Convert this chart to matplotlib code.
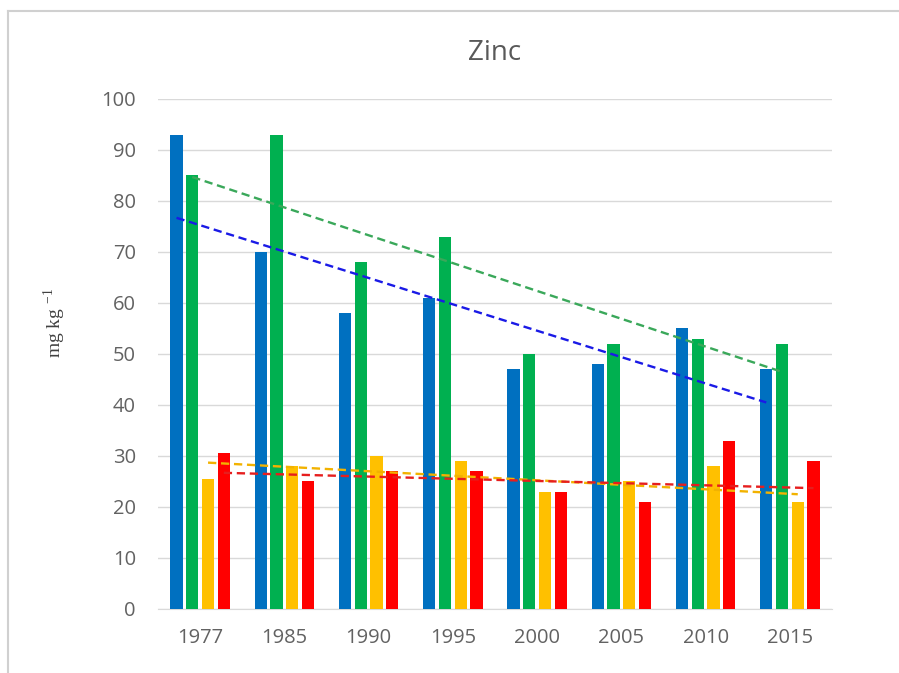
import numpy as np
import matplotlib
matplotlib.use('Agg')
import matplotlib.pyplot as plt
from matplotlib.lines import Line2D

# Zinc concentrations (mg/kg) by sampling year, four series
years = ['1977', '1985', '1990', '1995', '2000', '2005', '2010', '2015']
blue_vals = [93, 70, 58, 61, 47, 48, 55, 47]
green_vals = [85, 93, 68, 73, 50, 52, 53, 52]
yellow_vals = [25.5, 28, 30, 29, 23, 25, 28, 21]
red_vals = [30.5, 25, 27, 27, 23, 21, 33, 29]

# trendline values at first and last year
trend_start = [76.7, 84.7, 28.7, 26.7]
trend_end = [40.5, 46.5, 22.5, 23.7]

bar_colors = ['#0070C0', '#00B050', '#FFC000', '#FF0000']
trend_colors = ['#1a1ae6', '#3aa85a', '#f2b200', '#e61e1e']

plt.rcParams['font.family'] = ['Open Sans', 'DejaVu Sans']

fig = plt.figure(figsize=(8.99, 6.73), dpi=100)
ax = fig.add_axes([0.1758, 0.0951, 0.7497, 0.7578])

x = np.arange(len(years))
width = 0.146
step = 0.187
series = [blue_vals, green_vals, yellow_vals, red_vals]

for i, vals in enumerate(series):
    offs = (i - 1.5) * step
    ax.bar(x + offs, vals, width=width, color=bar_colors[i], zorder=2)
    # dashed trendline across the series
    ax.plot([x[0] + offs, x[-1] + offs], [trend_start[i], trend_end[i]],
            color=trend_colors[i], lw=1.7, ls=(0, (3.5, 2)), zorder=3)

ax.set_xlim(-0.5, len(years) - 0.5)
ax.set_ylim(0, 100)
ax.set_yticks(range(0, 101, 10))
ax.set_xticks(x)
ax.set_xticklabels(years)
ax.tick_params(axis='both', length=0, labelsize=14.5, labelcolor='#626262')
ax.tick_params(axis='y', pad=16)
ax.tick_params(axis='x', pad=14)

ax.grid(axis='y', color='#d9d9d9', lw=1, zorder=0)
for s in ['top', 'right', 'left']:
    ax.spines[s].set_visible(False)
ax.spines['bottom'].set_color('#d9d9d9')
ax.spines['bottom'].set_zorder(1)

ax.set_title('Zinc', fontsize=20, color='#595959', pad=28)
fig.text(0.061, 0.52, r'mg kg $^{\mathregular{-1}}$', rotation=90, ha='center', va='center',
         fontsize=14, family='Liberation Serif', color='#404040')

# chart frame lines (top and left)
fig.add_artist(Line2D([0.009, 1.0], [0.984, 0.984], color='#d0d0d0', lw=1.5, transform=fig.transFigure))
fig.add_artist(Line2D([0.009, 0.009], [0.0, 0.984], color='#d0d0d0', lw=1.5, transform=fig.transFigure))

fig.savefig('out.png', dpi=100)
